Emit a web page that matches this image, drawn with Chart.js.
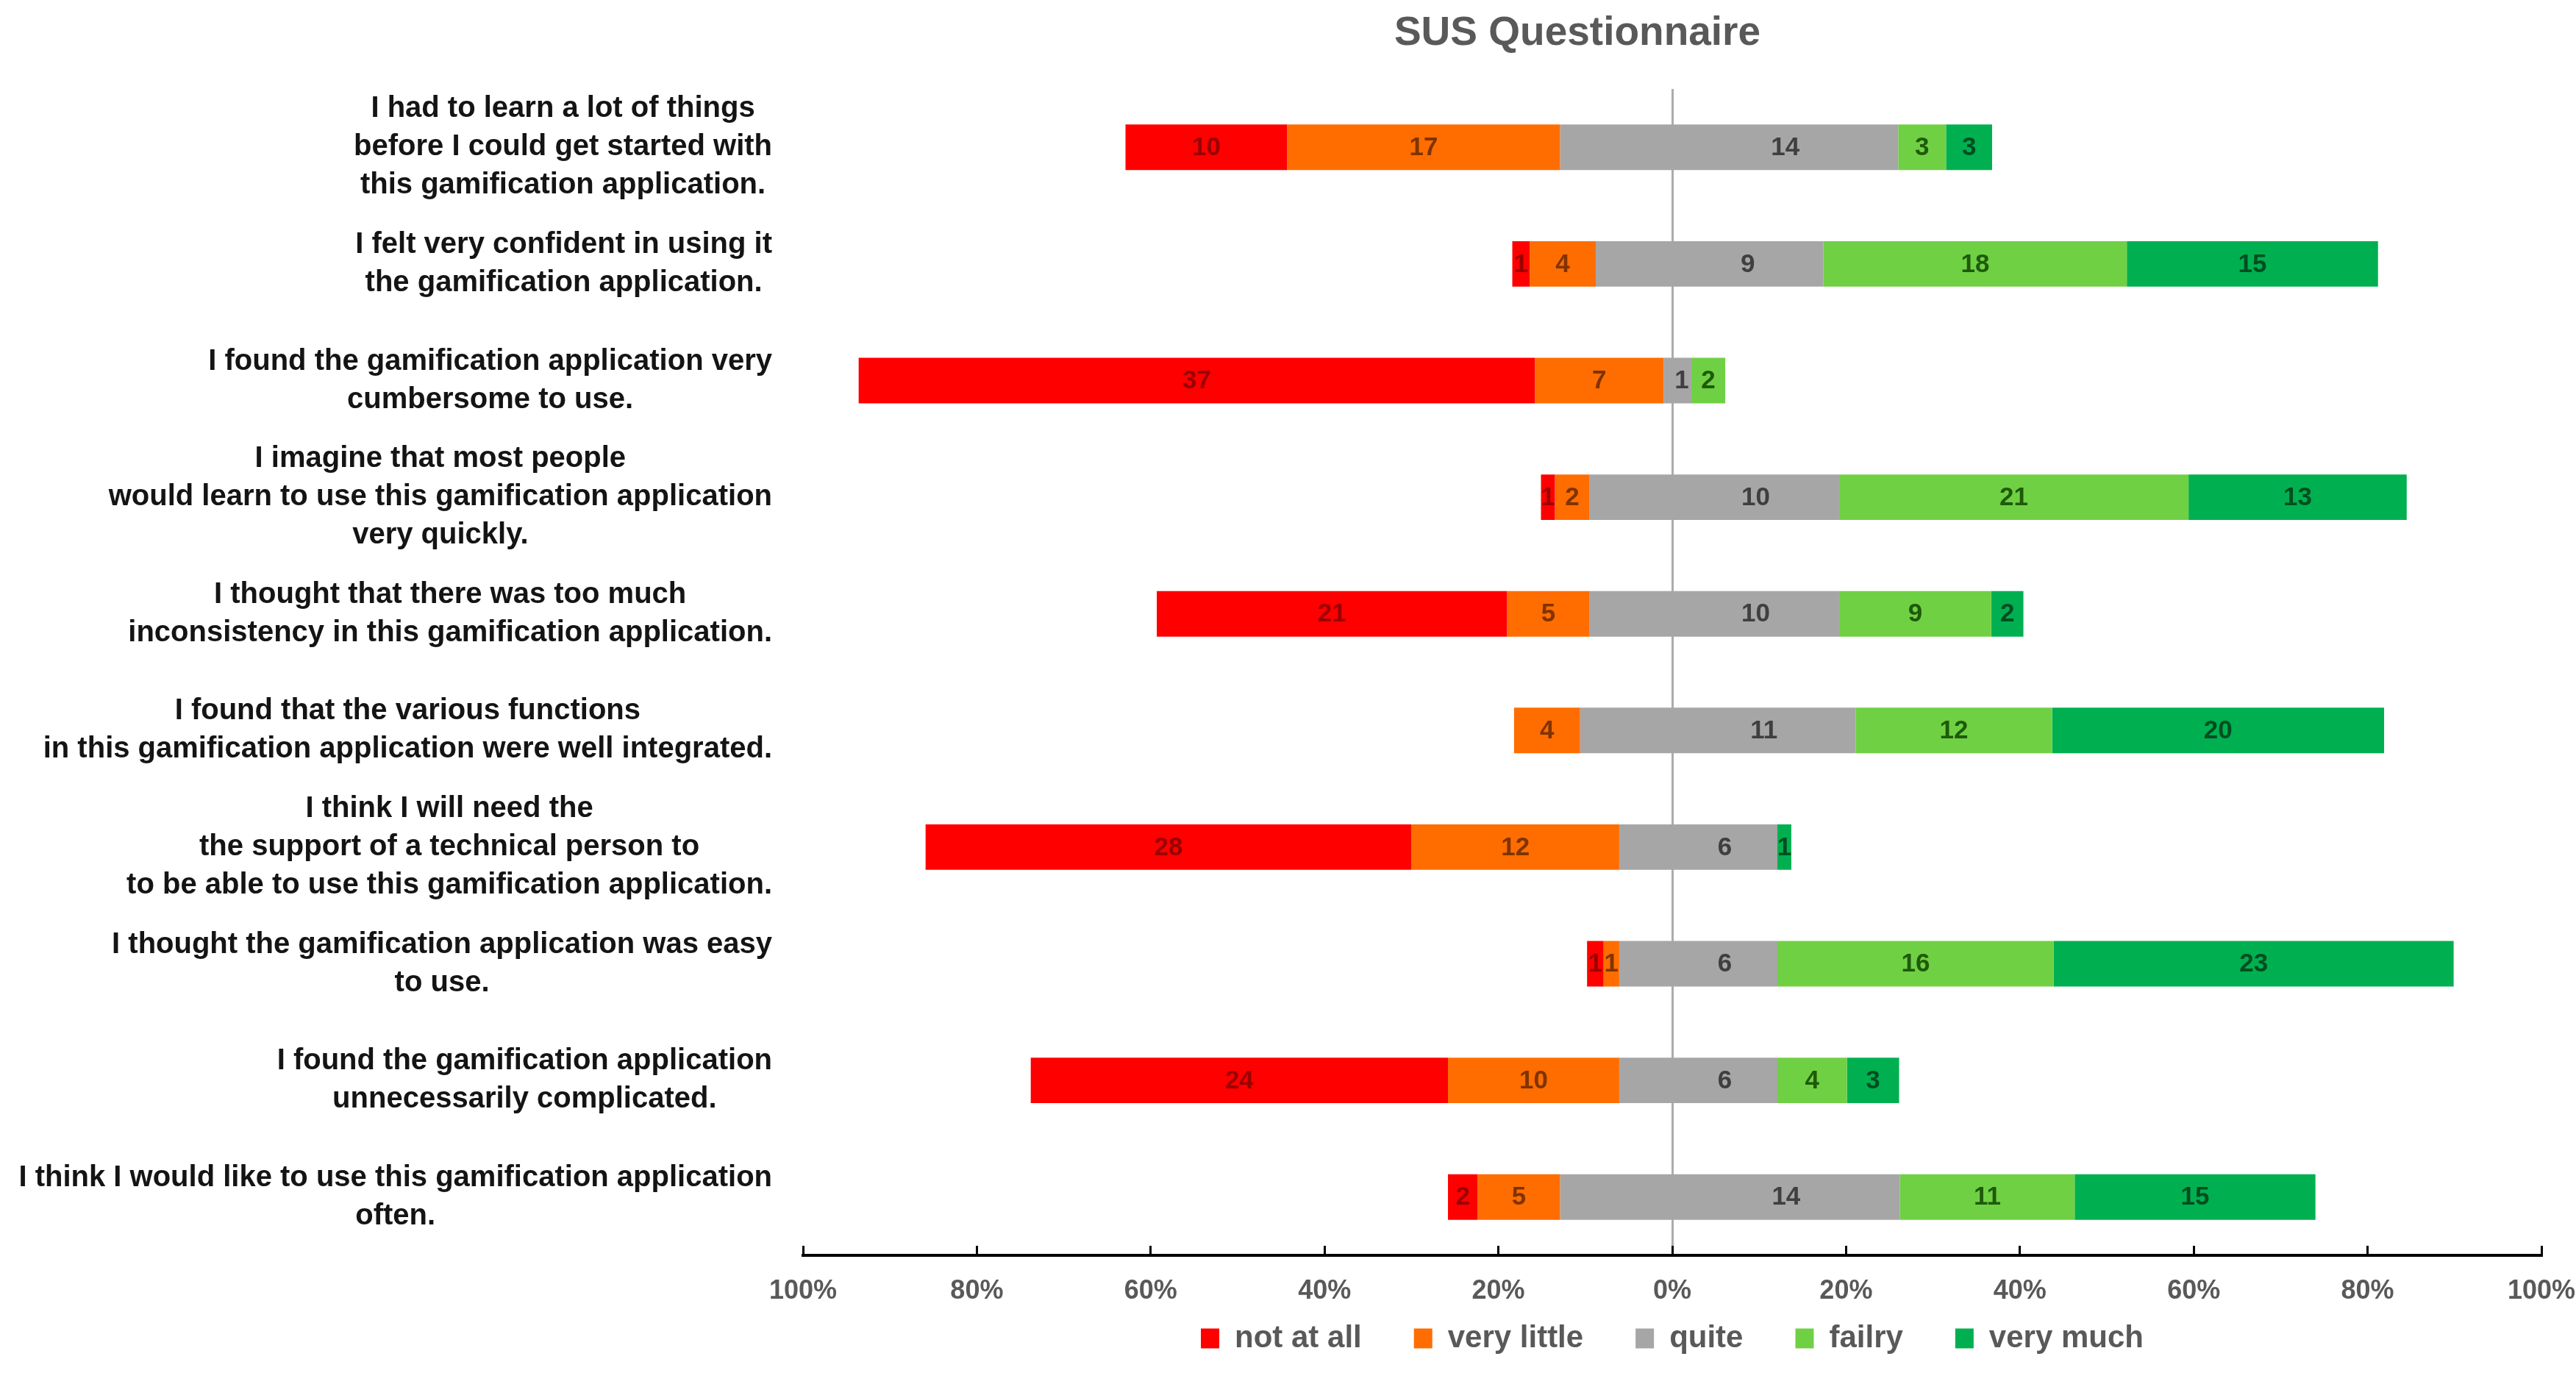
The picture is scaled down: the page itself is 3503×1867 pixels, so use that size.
<!DOCTYPE html>
<html lang="en">
<head>
<meta charset="UTF-8" />
<title>SUS Questionnaire</title>
<script src="https://cdn.jsdelivr.net/npm/chart.js"></script>
<style>
    body { margin: 0; background: #fff; }
    #wrap { position: relative; width: 3503px; height: 1867px; }
    #title {
        position: absolute; top: 10px; left: 2145px; transform: translateX(-50%);
        font: bold 55px "Liberation Sans", Arial, sans-serif; color: #595959; white-space: nowrap;
    }
</style>
</head>
<body>
<div id="wrap">
    <div id="title">SUS Questionnaire</div>
    <canvas id="susChart"></canvas>
</div>
<script>
// statements, top to bottom
const questions = [
    ["I had to learn a lot of things", "before I could get started with", "this gamification application."],
    ["I felt very confident in using it", "the gamification application."],
    ["I found the gamification application very", "cumbersome to use."],
    ["I imagine that most people", "would learn to use this gamification application", "very quickly."],
    ["I thought that there was too much", "inconsistency in this gamification application."],
    ["I found that the various functions", "in this gamification application were well integrated."],
    ["I think I will need the", "the support of a technical person to", "to be able to use this gamification application."],
    ["I thought the gamification application was easy", "to use."],
    ["I found the gamification application", "unnecessarily complicated."],
    ["I think I would like to use this gamification application", "often."]
];

const seriesNames = ["not at all", "very little", "quite", "failry", "very much"];

// bar widths in %
const notAtAll   = [18.6, 2.0, 77.8, 1.6, 40.3, 0, 55.9, 1.9, 48.0, 3.4];
const veryLittle = [31.4, 7.6, 14.8, 4.0, 9.5, 7.6, 23.9, 1.8, 19.7, 9.5];
const quiteLeft  = [12.9, 8.8, 1.0, 9.5, 9.5, 10.6, 6.1, 6.1, 6.1, 12.9];
const quiteRight = [26.0, 17.4, 2.2, 19.2, 19.2, 21.1, 12.1, 12.1, 12.1, 26.2];
const fairly     = [5.5, 34.9, 3.9, 40.2, 17.5, 22.6, 0, 31.8, 8.0, 20.1];
const veryMuch   = [5.3, 28.9, 0, 25.1, 3.7, 38.2, 1.6, 46.0, 6.0, 27.7];

// counts printed on the bars
const notAtAllN   = [10, 1, 37, 1, 21, 0, 28, 1, 24, 2];
const veryLittleN = [17, 4, 7, 2, 5, 4, 12, 1, 10, 5];
const quiteN      = [14, 9, 1, 10, 10, 11, 6, 6, 6, 14];
const fairlyN     = [3, 18, 2, 21, 9, 12, 0, 16, 4, 11];
const veryMuchN   = [3, 15, 0, 13, 2, 20, 1, 23, 3, 15];

const xTicks = [-100, -80, -60, -40, -20, 0, 20, 40, 60, 80, 100];

const fills     = ["#FF0000", "#FF6D00", "#A6A6A6", "#70D044", "#00B050"];
const numColors = ["#9A0000", "#7F3300", "#3F3F3F", "#1E5A0A", "#004D20"];

// floating bars built outward from the middle
const redBars = [], orangeBars = [], grayBars = [], lightBars = [], darkBars = [];
questions.forEach((q, i) => {
    const l1 = -quiteLeft[i];
    const l2 = l1 - veryLittle[i];
    const l3 = l2 - notAtAll[i];
    const r1 = quiteRight[i];
    const r2 = r1 + fairly[i];
    const r3 = r2 + veryMuch[i];
    redBars.push(notAtAll[i] ? [l3, l2] : null);
    orangeBars.push(veryLittle[i] ? [l2, l1] : null);
    grayBars.push([l1, r1]);
    lightBars.push(fairly[i] ? [r1, r2] : null);
    darkBars.push(veryMuch[i] ? [r2, r3] : null);
});
const counts = [notAtAllN, veryLittleN, quiteN, fairlyN, veryMuchN];
const barData = [redBars, orangeBars, grayBars, lightBars, darkBars];

const barLabels = {
    id: "barLabels",
    afterDatasetsDraw(chart) {
        const ctx = chart.ctx;
        const zero = chart.scales.x.getPixelForValue(0);
        ctx.save();
        ctx.font = "bold 35px 'Liberation Sans', Arial, sans-serif";
        ctx.textAlign = "center";
        ctx.textBaseline = "middle";
        chart.data.datasets.forEach((ds, d) => {
            chart.getDatasetMeta(d).data.forEach((el, i) => {
                const n = counts[d][i];
                if (!n || !ds.data[i]) return;
                // the "quite" count sits on the right-hand part of the grey bar
                const cx = d === 2 ? (zero + el.x) / 2 : (el.x + el.base) / 2;
                ctx.fillStyle = numColors[d];
                ctx.fillText(String(n), cx, el.y + 1);
            });
        });
        ctx.restore();
    }
};

// multi-line statements, lines centred, block right-aligned at the axis side
const questionLabels = {
    id: "questionLabels",
    afterDraw(chart) {
        const ctx = chart.ctx;
        const yScale = chart.scales.y;
        const lineH = 52;
        const right = 1050;
        ctx.save();
        ctx.font = "bold 40px 'Liberation Sans', Arial, sans-serif";
        ctx.fillStyle = "#141414";
        ctx.textAlign = "center";
        ctx.textBaseline = "middle";
        questions.forEach((lines, i) => {
            const y = yScale.getPixelForValue(i);
            const w = Math.max(...lines.map(t => ctx.measureText(t).width));
            const cx = right - w / 2;
            const y0 = y - (lines.length - 1) * lineH / 2;
            lines.forEach((t, k) => ctx.fillText(t, cx, y0 + k * lineH));
        });
        ctx.restore();
    }
};

// the x scale box is kept short so the legend can sit close; let its labels draw below it
const roomForTicks = {
    id: "roomForTicks",
    afterLayout(chart) {
        const x = chart.scales.x;
        x.bottom = x.top + 100;
    }
};

new Chart(document.getElementById("susChart"), {
    type: "bar",
    data: {
        labels: questions.map(q => q.join(" ")),
        datasets: seriesNames.map((name, d) => ({
            label: name,
            data: barData[d],
            backgroundColor: fills[d],
            borderWidth: 0,
            grouped: false,
            barPercentage: 0.39,
            categoryPercentage: 1
        }))
    },
    options: {
        indexAxis: "y",
        responsive: true,
        maintainAspectRatio: false,
        devicePixelRatio: 1,
        animation: false,
        layout: { padding: { top: 121, left: 0, right: 0, bottom: 16 } },
        scales: {
            x: {
                min: -100,
                max: 100,
                z: 1,
                afterBuildTicks: s => { s.ticks = xTicks.map(v => ({ value: v })); },
                afterFit: s => { s.height = 21; s.paddingRight = 47; s.paddingLeft = 0; },
                ticks: {
                    callback: v => Math.abs(v) + "%",
                    padding: 40,
                    color: "#595959",
                    font: { family: "'Liberation Sans', Arial, sans-serif", size: 36, weight: "bold" }
                },
                grid: {
                    color: c => (c.tick && c.tick.value === 0) ? "rgba(70,70,70,0.45)" : "rgba(0,0,0,0)",
                    lineWidth: 3,
                    tickColor: "#000",
                    tickWidth: 3,
                    tickLength: -13
                },
                border: { display: true, color: "#000", width: 4 }
            },
            y: {
                afterFit: s => { s.width = 1092; },
                ticks: { display: false },
                grid: { display: false },
                border: { display: false }
            }
        },
        plugins: {
            tooltip: { enabled: false },
            legend: {
                position: "bottom",
                fullSize: false,
                labels: {
                    boxWidth: 25,
                    boxHeight: 27,
                    padding: 71,
                    color: "#595959",
                    font: { family: "'Liberation Sans', Arial, sans-serif", size: 42, weight: "bold" }
                }
            }
        }
    },
    plugins: [barLabels, questionLabels, roomForTicks]
});
</script>
</body>
</html>
